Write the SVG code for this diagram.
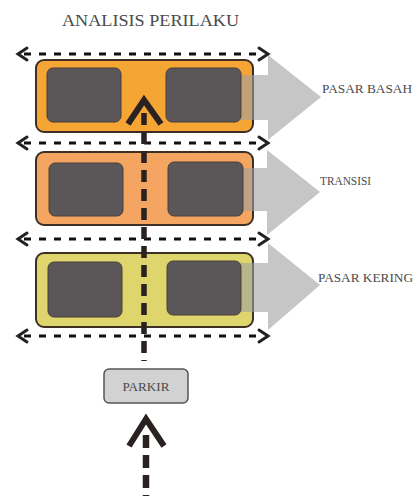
<svg xmlns="http://www.w3.org/2000/svg" width="420" height="496" viewBox="0 0 420 496">
<style>
.lbl{font-family:"Liberation Serif","Times New Roman",serif;fill:#4a4a4a}
.box{stroke:#3e2f24;stroke-width:2}
.inner{fill:#5b5758;stroke:#4a3f3a;stroke-width:1}
.zone{fill:#a0a0a0;fill-opacity:0.6}
.hdash{fill:none;stroke:#111;stroke-width:3;stroke-dasharray:7 8}
.chev{fill:none;stroke:#222;stroke-width:3;stroke-linecap:round;stroke-linejoin:miter}
.vdash{fill:none;stroke:#2a2220;stroke-width:5.5;stroke-dasharray:12 7}
.bigchev{fill:none;stroke:#2a2220;stroke-width:6;stroke-linejoin:miter}
</style>
<rect width="420" height="496" fill="#fff"/>
<text class="lbl" x="62" y="26" font-size="17" textLength="177" lengthAdjust="spacingAndGlyphs" fill="#555">ANALISIS PERILAKU</text>

<g id="pasar-basah">
<rect class="box" x="36" y="60" width="217" height="72" rx="8" fill="#f5a534"/>
<polygon class="zone" points="230,75 268,75 268,55 321,97 268,140 268,120 230,120"/>
<rect class="inner" x="47" y="68" width="74" height="54" rx="6"/>
<rect class="inner" x="166" y="68" width="75" height="54" rx="6"/>
<text class="lbl" x="322" y="93" font-size="13" textLength="90" lengthAdjust="spacingAndGlyphs">PASAR BASAH</text>
</g>

<g id="transisi">
<rect class="box" x="36" y="152" width="217" height="73" rx="8" fill="#f5a562"/>
<polygon class="zone" points="230,168 267,168 267,150 320,192 267,235 267,211 230,211"/>
<rect class="inner" x="49" y="163" width="74" height="53" rx="6"/>
<rect class="inner" x="168" y="162" width="75" height="54" rx="6"/>
<text class="lbl" x="320" y="185" font-size="12" textLength="51" lengthAdjust="spacingAndGlyphs">TRANSISI</text>
</g>

<g id="pasar-kering">
<rect class="box" x="36" y="253" width="217" height="74" rx="8" fill="#ded56c"/>
<polygon class="zone" points="230,263 268,263 268,243 320,285 268,330 268,312 230,312"/>
<rect class="inner" x="48" y="262" width="74" height="55" rx="6"/>
<rect class="inner" x="167" y="261" width="74" height="54" rx="6"/>
<text class="lbl" x="318" y="282" font-size="13" textLength="95" lengthAdjust="spacingAndGlyphs">PASAR KERING</text>
</g>

<g id="parkir">
<rect x="104" y="369" width="84" height="34" rx="5" fill="#d2d2d2" stroke="#555" stroke-width="1.5"/>
<text class="lbl" x="146" y="391" font-size="12" text-anchor="middle" fill="#666" textLength="47" lengthAdjust="spacingAndGlyphs">PARKIR</text>
</g>

<g id="connectors">
<line class="hdash" x1="24" y1="54" x2="264" y2="54"/>
<polyline class="chev" points="27,48 18,54 27,60"/>
<polyline class="chev" points="259,48 268,54 259,60"/>
<line class="hdash" x1="24" y1="143" x2="264" y2="143"/>
<polyline class="chev" points="27,137 18,143 27,149"/>
<polyline class="chev" points="259,137 268,143 259,149"/>
<line class="hdash" x1="24" y1="239" x2="264" y2="239"/>
<polyline class="chev" points="27,233 18,239 27,245"/>
<polyline class="chev" points="259,233 268,239 259,245"/>
<line class="hdash" x1="24" y1="336" x2="264" y2="336"/>
<polyline class="chev" points="27,330 18,336 27,342"/>
<polyline class="chev" points="259,330 268,336 259,342"/>
<line class="vdash" x1="144" y1="113" x2="144" y2="361" stroke-dashoffset="0"/>
<polyline class="bigchev" points="128,124 144,100 161,124"/>
<line class="vdash" x1="146" y1="435" x2="146" y2="496" style="stroke-width:6.5;stroke-dasharray:13 7"/>
<polyline class="bigchev" points="129,446 146,419 164,446"/>
</g>
</svg>
